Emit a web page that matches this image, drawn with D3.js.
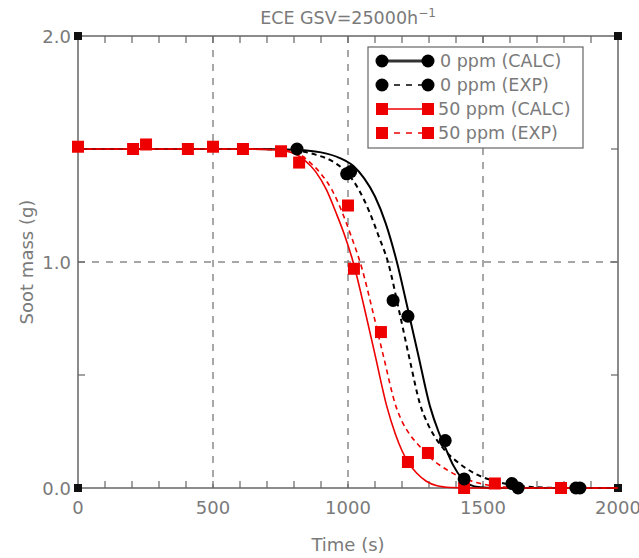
<!DOCTYPE html>
<html>
<head>
<meta charset="utf-8">
<script src="https://cdn.jsdelivr.net/npm/d3@7"></script>
<style>
  body { margin: 0; background: #fff; }
  text { font-family: "DejaVu Sans", sans-serif; fill: #7a7a7a; }
</style>
</head>
<body>
<div id="chart"></div>
<script>
// Measured points (time s, soot mass g)
const exp0 = [[811,1.50],[995,1.39],[1010,1.40],[1167,0.83],[1222,0.76],[1360,0.21],
  [1430,0.04],[1607,0.02],[1630,0.0],[1844,0.0],[1859,0.0]];
const exp50 = [[0,1.51],[204,1.50],[252,1.52],[407,1.50],[500,1.51],[611,1.50],[752,1.49],
  [819,1.44],[1000,1.25],[1022,0.97],[1122,0.69],[1222,0.115],[1296,0.155],
  [1430,0.0],[1544,0.02],[1789,0.0]];

// Curves
const calc0 = [[0,1.5],[637,1.5],[800,1.497],[900,1.485],[970,1.46],[1020,1.425],[1060,1.37],
  [1100,1.29],[1140,1.17],[1181,1.0],[1220,0.80],[1260,0.59],[1304,0.36],[1335,0.25],
  [1360,0.18],[1390,0.10],[1420,0.045],[1450,0.015],[1490,0.003],[1540,0],[2000,0]];
const fit0 = [[0,1.5],[637,1.5],[790,1.495],[880,1.475],[950,1.44],[1000,1.39],[1040,1.32],
  [1080,1.22],[1115,1.11],[1148,1.0],[1190,0.78],[1230,0.56],[1267,0.37],[1295,0.285],
  [1325,0.22],[1360,0.165],[1400,0.12],[1440,0.085],[1480,0.058],[1530,0.035],[1590,0.017],
  [1660,0.006],[1760,0.001],[1850,0],[2000,0]];
const calc50 = [[0,1.5],[600,1.5],[720,1.497],[790,1.485],[840,1.45],[880,1.40],[920,1.32],
  [955,1.22],[990,1.11],[1019,1.0],[1060,0.80],[1100,0.59],[1144,0.36],[1175,0.24],
  [1200,0.165],[1225,0.11],[1255,0.065],[1290,0.03],[1330,0.01],[1380,0.002],[1440,0],[2000,0]];
const fit50 = [[0,1.5],[620,1.5],[740,1.497],[810,1.482],[860,1.44],[900,1.39],[940,1.32],
  [975,1.23],[1010,1.12],[1052,0.97],[1090,0.79],[1130,0.59],[1178,0.36],[1200,0.295],
  [1230,0.235],[1265,0.185],[1300,0.14],[1360,0.085],[1420,0.047],[1500,0.017],[1580,0.004],
  [1660,0],[2000,0]];

const xTicks = [0, 500, 1000, 1500, 2000];
const yTicks = [0, 1, 2];
const legendLabels = ['0 ppm (CALC)', '0 ppm (EXP)', '50 ppm (CALC)', '50 ppm (EXP)'];

const width = 639, height = 558;
const margin = { top: 36, right: 21, bottom: 70, left: 78 };
const innerWidth = width - margin.left - margin.right;
const innerHeight = height - margin.top - margin.bottom;

const svg = d3.select('#chart').append('svg')
    .attr('width', width)
    .attr('height', height);

const g = svg.append('g')
    .attr('transform', `translate(${margin.left},${margin.top})`);

const x = d3.scaleLinear().domain([0, 2000]).range([0, innerWidth]);
const y = d3.scaleLinear().domain([0, 2]).range([innerHeight, 0]);

// dashed grid
g.selectAll('.vgrid').data([500, 1000, 1500]).enter().append('line')
    .attr('x1', d => x(d)).attr('x2', d => x(d))
    .attr('y1', 0).attr('y2', innerHeight)
    .style('stroke', '#8a8a8a').style('stroke-width', 1.5).style('stroke-dasharray', '7,7');
g.append('line')
    .attr('x1', 0).attr('x2', innerWidth)
    .attr('y1', y(1)).attr('y2', y(1))
    .style('stroke', '#8a8a8a').style('stroke-width', 1.5).style('stroke-dasharray', '7,7');

// frame
g.append('rect')
    .attr('width', innerWidth).attr('height', innerHeight)
    .style('fill', 'none').style('stroke', '#666').style('stroke-width', 1.5);

// minor ticks, inward
const minorX = d3.range(100, 2000, 100);
g.selectAll('.tb').data(minorX).enter().append('line')
    .attr('x1', d => x(d)).attr('x2', d => x(d))
    .attr('y1', innerHeight).attr('y2', innerHeight - 7)
    .style('stroke', '#666').style('stroke-width', 1.2);
g.selectAll('.tt').data(minorX).enter().append('line')
    .attr('x1', d => x(d)).attr('x2', d => x(d))
    .attr('y1', 0).attr('y2', 7)
    .style('stroke', '#666').style('stroke-width', 1.2);
const minorY = [0.5, 1, 1.5];
g.selectAll('.tl').data(minorY).enter().append('line')
    .attr('x1', 0).attr('x2', 7)
    .attr('y1', d => y(d)).attr('y2', d => y(d))
    .style('stroke', '#666').style('stroke-width', 1.2);
g.selectAll('.tr').data(minorY).enter().append('line')
    .attr('x1', innerWidth).attr('x2', innerWidth - 7)
    .attr('y1', d => y(d)).attr('y2', d => y(d))
    .style('stroke', '#666').style('stroke-width', 1.2);

// corner squares
const corners = [[0, 0], [2000, 0], [0, 2], [2000, 2]];
g.selectAll('.corner').data(corners).enter().append('rect')
    .attr('x', d => x(d[0]) - 4).attr('y', d => y(d[1]) - 4)
    .attr('width', 8).attr('height', 8)
    .style('fill', '#111');

// tick labels
g.selectAll('.xl').data(xTicks).enter().append('text')
    .attr('x', d => x(d)).attr('y', innerHeight + 26)
    .attr('text-anchor', 'middle')
    .style('font-size', '18px')
    .text(d => d);
g.selectAll('.yl').data(yTicks).enter().append('text')
    .attr('x', -7).attr('y', d => y(d) + 7)
    .attr('text-anchor', 'end')
    .style('font-size', '18px')
    .text(d => d3.format('.1f')(d));

// axis titles
g.append('text')
    .attr('x', innerWidth / 2).attr('y', innerHeight + 63)
    .attr('text-anchor', 'middle')
    .style('font-size', '18px')
    .text('Time (s)');
g.append('text')
    .attr('transform', 'rotate(-90)')
    .attr('x', -innerHeight / 2).attr('y', -45)
    .attr('text-anchor', 'middle')
    .style('font-size', '18px')
    .text('Soot mass (g)');

const title = svg.append('text')
    .attr('x', margin.left + innerWidth / 2).attr('y', 24)
    .attr('text-anchor', 'middle')
    .style('font-size', '17.5px')
    .text('ECE GSV=25000h');
title.append('tspan').attr('dy', -7).style('font-size', '12px').text('−1');

// curves
const line = d3.line()
    .x(d => x(d[0]))
    .y(d => y(d[1]))
    .curve(d3.curveMonotoneX);

const curves = [
    { data: calc0, color: '#000', dash: null, w: 2 },
    { data: fit0, color: '#000', dash: '5,4', w: 2 },
    { data: calc50, color: '#e00', dash: null, w: 1.6 },
    { data: fit50, color: '#e00', dash: '5,4', w: 1.6 }
];
curves.forEach(c => {
    g.append('path')
        .datum(c.data)
        .attr('d', line)
        .style('fill', 'none')
        .style('stroke', c.color)
        .style('stroke-width', c.w)
        .style('stroke-dasharray', c.dash);
});

// markers
g.selectAll('.sq').data(exp50).enter().append('rect')
    .attr('x', d => x(d[0]) - 6).attr('y', d => y(d[1]) - 6)
    .attr('width', 12).attr('height', 12)
    .style('fill', '#e00');
g.selectAll('.ci').data(exp0).enter().append('circle')
    .attr('cx', d => x(d[0])).attr('cy', d => y(d[1]))
    .attr('r', 6.5)
    .style('fill', '#000');

// legend
const lg = svg.append('g').attr('transform', 'translate(368,47)');
lg.append('rect')
    .attr('width', 215).attr('height', 101)
    .style('fill', '#fff').style('stroke', '#666').style('stroke-width', 1.2);
legendLabels.forEach((lab, i) => {
    const c = curves[i];
    const ly = 14 + i * 24;
    lg.append('line')
        .attr('x1', 14).attr('x2', 60)
        .attr('y1', ly).attr('y2', ly)
        .style('stroke', i === 0 ? '#333' : c.color)
        .style('stroke-width', i === 0 ? 3 : 1.6)
        .style('stroke-dasharray', i % 2 ? '6,6' : null);
    [14, 60].forEach(mx => {
        if (i < 2) {
            lg.append('circle').attr('cx', mx).attr('cy', ly).attr('r', 6.5).style('fill', '#000');
        } else {
            lg.append('rect').attr('x', mx - 6).attr('y', ly - 6)
                .attr('width', 12).attr('height', 12).style('fill', '#e00');
        }
    });
    lg.append('text')
        .attr('x', i < 2 ? 72 : 70).attr('y', ly + 6)
        .style('font-size', '17.5px')
        .text(lab);
});
</script>
</body>
</html>
